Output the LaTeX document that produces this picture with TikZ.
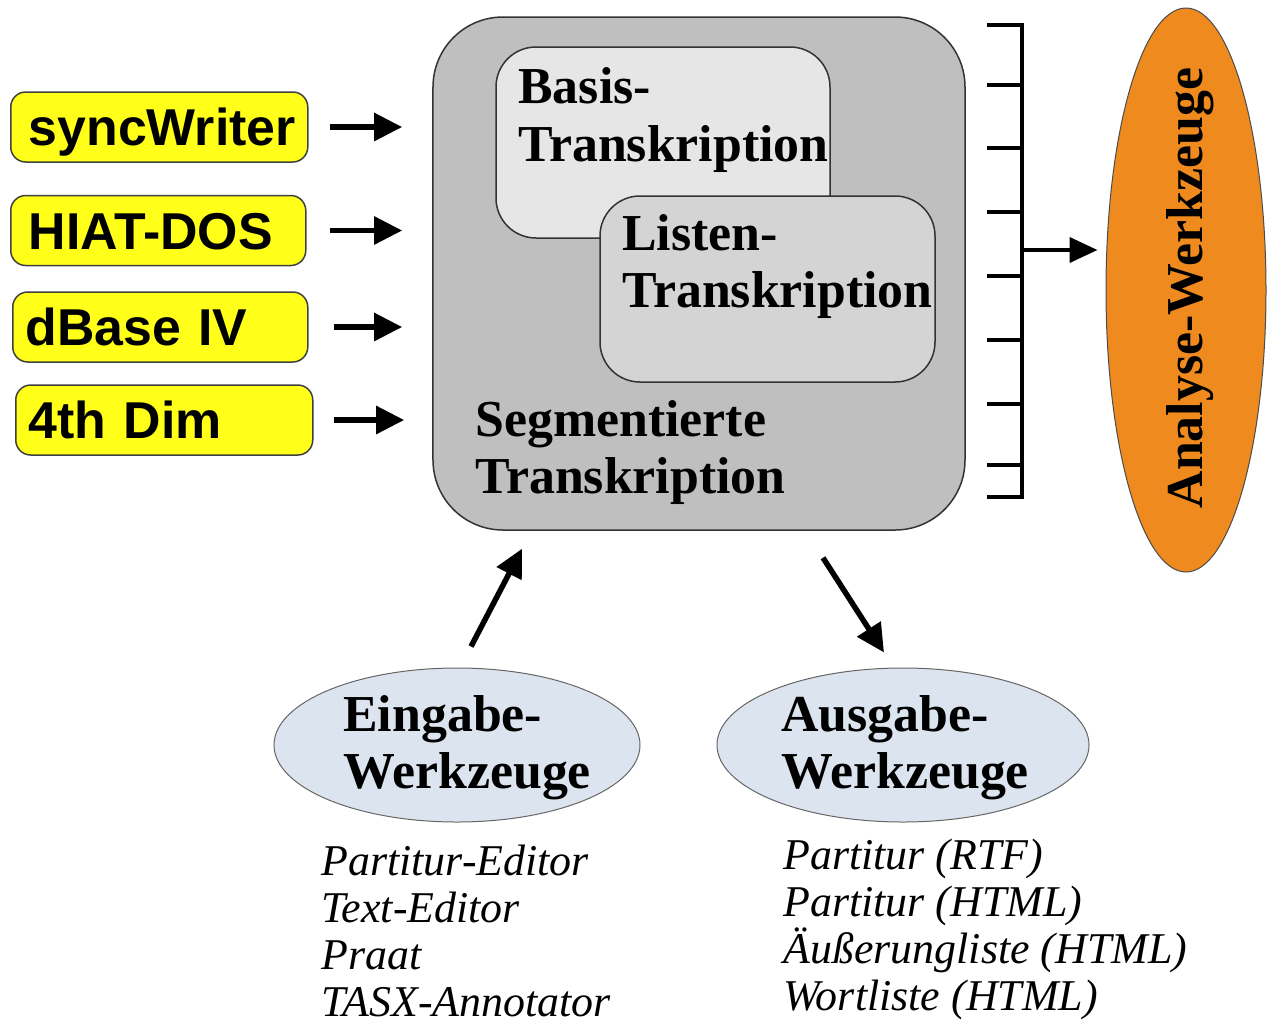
\documentclass[tikz,border=0pt]{standalone}
\usepackage{fontspec}
\setmainfont{Liberation Serif}
\setsansfont{Liberation Sans}
\usetikzlibrary{shapes.geometric,arrows.meta,calc}
\definecolor{ybg}{HTML}{FFFF1A}
\definecolor{segc}{HTML}{BFBFBF}
\definecolor{basc}{HTML}{E6E6E6}
\definecolor{lisc}{HTML}{D4D4D4}
\definecolor{elc}{HTML}{DCE5EF}
\definecolor{orc}{HTML}{EF8A1E}
\begin{document}
\begin{tikzpicture}[x=0.2mm,y=-0.2mm,
  ybox/.style={draw=black!75, line width=0.3mm, fill=ybg, rounded corners=3mm,
    minimum height=14mm, inner xsep=0pt, inner ysep=0pt, anchor=west, align=left,
    font=\sffamily\bfseries\fontsize{29.5}{32}\selectfont, text height=21.1pt, text depth=0pt},
  tb/.style={font=\bfseries\fontsize{29.5}{32}\selectfont, inner sep=0pt, anchor=base west},
  li/.style={font=\itshape\fontsize{25}{27}\selectfont, inner sep=0pt, anchor=base west},
  arr/.style={line width=1.1mm, -{Triangle[length=5.6mm,width=5.4mm]}},
  brk/.style={line width=0.8mm},
  gel/.style={ellipse, draw=black!60, line width=0.2mm, fill=elc, inner sep=0pt}]
\useasboundingbox (0,0) rectangle (1267,1024);
\fill[white] (0,0) rectangle (1267,1024);

% yellow source boxes
\node[ybox, text width=59.4mm] (sw) at (10,127) {\hspace*{3.6mm}syncWriter};
\node[ybox, text width=59mm] (hd) at (10,230.5) {\hspace*{3.6mm}HIAT-DOS};
\node[ybox, text width=59mm] (db) at (12,327) {\hspace*{2.6mm}dBase IV};
\node[ybox, text width=59.4mm] (fd) at (15,420) {\hspace*{2.6mm}4th Dim};

% main box
\node[draw=black!80, line width=0.3mm, fill=segc, rounded corners=14mm,
  minimum width=106.4mm, minimum height=102.6mm] (seg) at (699,273.5) {};
\node[draw=black!80, line width=0.3mm, fill=basc, rounded corners=8mm,
  minimum width=66.8mm, minimum height=38.2mm] (bas) at (663,142.5) {};
\node[draw=black!80, line width=0.3mm, fill=lisc, rounded corners=8mm,
  minimum width=67mm, minimum height=37.2mm] (lis) at (767.5,289) {};

\node[tb] (bas1) at (518,103) {Basis-};
\node[tb] (bas2) at (518,161) {Transkription};
\node[tb] (lis1) at (622,250) {Listen-};
\node[tb] (lis2) at (622,307) {Transkription};
\node[tb] (seg1) at (475,436) {Segmentierte};
\node[tb] (seg2) at (475,493) {Transkription};

% input arrows
\draw[arr, shorten <=4.2mm, shorten >=6mm] (sw.east) -- (sw.east -| seg.west);
\draw[arr, shorten <=4.6mm, shorten >=6mm] (hd.east) -- (hd.east -| seg.west);
\draw[arr, shorten <=5mm, shorten >=6mm] (db.east) -- (db.east -| seg.west);
\draw[arr, shorten <=4mm, shorten >=5.6mm] (fd.east) -- (fd.east -| seg.west);

% bracket
\draw[brk] (987,25) -- (1022,25) -- (1022,497) -- (987,497);
\foreach \yy in {85,148,212,276,340,404,465} \draw[brk] (987,\yy) -- (1022,\yy);
\coordinate (br) at (1022,250);

% analysis ellipse
\node[ellipse, draw=black!70, line width=0.2mm, fill=orc, minimum width=32mm,
  minimum height=112.8mm, inner sep=0pt] (ana) at (1186,290) {};
\node[rotate=90, inner sep=0pt, font=\bfseries\fontsize{29.5}{32}\selectfont]
  (anat) at (1190,288) {Analyse-Werkzeuge};
\draw[line width=0.8mm, -{Triangle[length=5.6mm,width=5mm]}, shorten >=1.6mm] (br) -- (br -| ana.west);

% bottom ellipses
\node[gel, minimum width=73.2mm, minimum height=30.8mm] (ein) at (457,745) {};
\node[gel, minimum width=74.4mm, minimum height=30.8mm] (aus) at (903,745) {};
\node[tb] (ein1) at (343,731) {Eingabe-};
\node[tb] (ein2) at (343,788) {Werkzeuge};
\node[tb] (aus1) at (781,731) {Ausgabe-};
\node[tb] (aus2) at (781,788) {Werkzeuge};

\draw[arr] ($(ein.north)+(14,-21)$) -- ($(seg.south)+(-177,18)$);
\draw[arr] ($(seg.south)+(124,27)$) -- ($(aus.north)+(-19,-15)$);

% lists
\node[li] (l1) at (321,875) {Partitur-Editor};
\node[li] (l2) at (321,922) {Text-Editor};
\node[li] (l3) at (321,969) {Praat};
\node[li] (l4) at (321,1016) {TASX-Annotator};
\node[li] (r1) at (783,869) {Partitur (RTF)};
\node[li] (r2) at (783,916) {Partitur (HTML)};
\node[li] (r3) at (783,963) {Äußerungliste (HTML)};
\node[li] (r4) at (783,1010) {Wortliste (HTML)};
\end{tikzpicture}
\end{document}
